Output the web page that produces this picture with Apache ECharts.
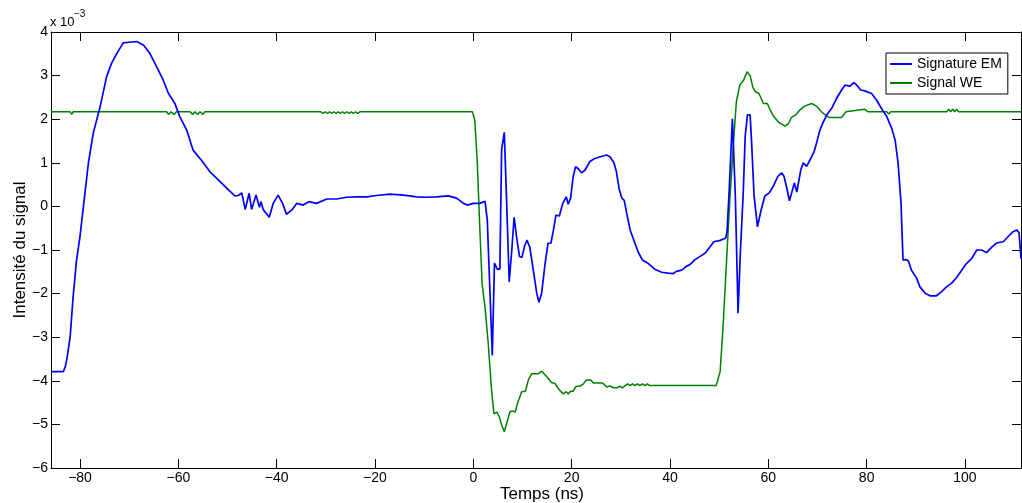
<!DOCTYPE html>
<html>
<head>
<meta charset="utf-8">
<script src="https://cdn.jsdelivr.net/npm/echarts@6/dist/echarts.min.js"></script>
<style>
html,body{margin:0;padding:0;background:#fff;}
#chart{width:1022px;height:503px;}
</style>
</head>
<body>
<div id="chart"></div>
<script>
var seriesNames = ['Signature EM', 'Signal WE'];
var xTicks = [-80, -60, -40, -20, 0, 20, 40, 60, 80, 100];

var emX = [-85.9,-83.4,-83.0,-82.7,-82.0,-81.4,-80.7,-80.0,-79.3,-78.3,-77.3,-75.9,-74.6,-73.6,-72.5,-71.2,-69.5,-68.5,-67.1,-65.8,-64.4,-63.1,-62.0,-60.7,-59.7,-58.3,-57.0,-55.3,-53.6,-51.5,-49.8,-48.5,-47.8,-47.1,-46.4,-46.0,-45.6,-45.1,-44.2,-43.5,-43.2,-42.7,-41.5,-40.7,-39.7,-38.8,-38.0,-36.9,-35.9,-34.6,-33.4,-31.9,-29.8,-27.8,-25.8,-23.7,-21.7,-19.7,-17.0,-14.2,-11.5,-9.5,-7.5,-5.1,-3.4,-2.0,-1.2,0.0,1.35,2.37,2.84,3.3,3.86,4.3,4.87,5.4,5.76,6.3,6.78,7.3,7.8,8.3,8.8,9.4,9.9,10.4,10.9,11.5,12.2,12.9,13.35,13.9,14.6,15.2,15.8,16.3,16.8,17.5,18.2,18.9,19.3,19.8,20.3,20.8,21.3,22.0,22.7,23.7,24.7,25.8,27.1,27.8,28.6,29.1,29.7,30.2,30.7,31.2,31.9,32.9,33.5,34.4,35.6,36.9,38.3,39.6,40.7,41.3,42.4,43.4,44.1,45.1,46.2,47.2,48.2,48.9,50.2,51.3,51.6,52.05,52.7,53.3,53.85,54.3,54.9,55.3,55.75,56.3,56.6,57.1,57.8,58.5,59.3,60.2,61.1,61.9,62.7,63.2,63.7,64.3,64.7,65.3,65.8,66.2,66.6,67.1,67.8,68.5,69.3,69.8,70.5,71.2,71.9,72.9,73.9,74.9,75.6,76.6,77.4,78.0,78.8,79.6,81.0,82.0,83.0,84.1,85.1,85.8,86.4,87.0,87.4,88.0,88.5,89.1,90.2,90.8,91.9,92.9,94.2,95.2,96.3,97.3,98.3,99.3,100.3,101.4,102.4,103.4,104.4,105.4,106.4,107.8,108.8,109.8,110.5,111.0,111.4];
var emY = [-3.79,-3.79,-3.68,-3.52,-2.99,-2.07,-1.23,-0.69,0.0,0.99,1.68,2.29,2.97,3.28,3.51,3.75,3.77,3.78,3.70,3.51,3.20,2.90,2.59,2.36,2.06,1.75,1.29,1.06,0.80,0.57,0.38,0.24,0.25,0.31,-0.07,-0.07,0.30,-0.07,0.26,-0.02,0.11,-0.08,-0.25,0.07,0.26,0.07,-0.18,-0.08,0.07,0.03,0.11,0.07,0.17,0.17,0.21,0.22,0.22,0.25,0.28,0.26,0.22,0.21,0.22,0.24,0.19,0.07,0.03,0.07,0.07,0.12,-0.31,-1.7,-3.42,-1.30,-1.44,-1.44,1.31,1.70,0.1,-1.73,-1.04,-0.25,-0.70,-1.15,-1.17,-0.92,-0.77,-0.94,-1.46,-1.99,-2.2,-1.99,-1.31,-0.85,-0.84,-0.54,-0.20,-0.22,0.07,0.22,0.05,0.19,0.68,0.91,0.87,0.77,0.83,1.03,1.10,1.14,1.18,1.14,1.0,0.80,0.38,0.19,0.14,-0.16,-0.54,-0.85,-1.04,-1.23,-1.31,-1.44,-1.51,-1.53,-1.54,-1.49,-1.46,-1.37,-1.33,-1.22,-1.14,-1.07,-0.92,-0.81,-0.78,-0.73,-0.60,0.38,2.01,0.22,-2.45,-1.1,0.3,1.6,2.10,2.10,1.48,0.26,-0.47,-0.10,0.24,0.31,0.48,0.68,0.77,0.69,0.45,0.13,0.29,0.54,0.33,0.33,0.83,1.0,0.92,1.07,1.25,1.45,1.75,1.94,2.10,2.25,2.48,2.67,2.78,2.76,2.84,2.78,2.67,2.65,2.59,2.44,2.25,2.06,1.79,1.52,0.99,0.07,-1.23,-1.22,-1.25,-1.46,-1.65,-1.84,-1.99,-2.05,-2.05,-1.96,-1.84,-1.76,-1.63,-1.47,-1.31,-1.19,-1.0,-1.0,-1.06,-0.94,-0.84,-0.81,-0.69,-0.58,-0.54,-0.6,-1.2];

var weX = [-85.9,-82.0,-81.7,-81.4,-62.4,-62.0,-61.5,-60.9,-60.4,-57.6,-57.1,-56.6,-56.1,-55.6,-55.0,-54.6,-31.0,-30.56,-30.12,-29.68,-29.24,-28.8,-28.36,-27.92,-27.48,-27.04,-26.6,-26.16,-25.72,-25.28,-24.84,-24.4,-23.96,-23.52,-23.08,-0.2,0.3,0.8,1.35,1.8,2.37,3.0,3.7,4.2,4.8,5.3,5.77,6.3,6.78,7.45,8.0,8.5,9.1,9.83,10.6,11.2,11.86,13.2,13.9,14.9,15.9,16.6,17.5,18.3,18.9,19.3,19.8,20.3,20.9,21.7,22.4,23.0,23.9,24.4,26.3,27.1,27.8,28.5,29.2,29.8,30.3,30.9,31.4,31.9,32.4,32.9,33.4,33.9,34.4,34.9,35.4,35.9,40.6,41.0,41.4,41.8,42.2,49.4,50.2,50.8,51.5,52.2,52.9,53.5,54.2,54.9,55.7,56.3,56.9,57.4,58.1,59.0,59.8,60.4,61.1,62.2,63.4,64.1,64.7,65.6,66.4,67.4,68.8,69.8,70.8,71.9,72.5,74.9,75.8,76.9,77.3,79.6,80.3,84.1,84.5,84.9,96.3,96.7,97.1,97.5,97.9,98.3,98.7,111.4];
var weY = [2.17,2.17,2.11,2.17,2.17,2.11,2.17,2.11,2.17,2.17,2.11,2.17,2.11,2.17,2.11,2.17,2.17,2.13,2.17,2.13,2.17,2.13,2.17,2.13,2.17,2.13,2.17,2.13,2.17,2.13,2.17,2.13,2.17,2.13,2.17,2.17,1.98,1.02,-0.58,-1.80,-2.30,-3.10,-4.20,-4.76,-4.72,-4.83,-5.02,-5.17,-4.98,-4.71,-4.69,-4.72,-4.48,-4.25,-4.24,-3.98,-3.84,-3.84,-3.78,-3.90,-4.04,-4.06,-4.21,-4.30,-4.25,-4.30,-4.24,-4.24,-4.13,-4.12,-4.07,-3.98,-3.98,-4.05,-4.05,-4.14,-4.12,-4.16,-4.16,-4.12,-4.16,-4.11,-4.07,-4.11,-4.07,-4.11,-4.07,-4.11,-4.07,-4.11,-4.07,-4.11,-4.11,-4.07,-4.11,-4.07,-4.11,-4.11,-3.79,-2.76,-1.27,0.2,1.42,2.40,2.78,2.88,3.09,3.0,2.72,2.63,2.59,2.36,2.36,2.21,2.06,1.92,1.84,1.90,2.04,2.10,2.21,2.30,2.36,2.30,2.17,2.07,2.04,2.04,2.17,2.19,2.23,2.23,2.17,2.17,2.12,2.17,2.17,2.23,2.17,2.23,2.17,2.23,2.17,2.17];

function zip(xs, ys) { return xs.map(function (x, i) { return [x, ys[i]]; }); }
function minusFmt(v) { return v < 0 ? '\u2212' + Math.abs(v) : String(v); }

var FONT = '"Liberation Sans", Arial, Helvetica, sans-serif';
var black = '#000';
var xMin = -85.9, xMax = 111.4;

var chart = echarts.init(document.getElementById('chart'), null, { renderer: 'canvas' });
chart.setOption({
  animation: false,
  backgroundColor: '#fff',
  grid: { left: 51, right: 1, top: 32, bottom: 35, containLabel: false, outerBoundsMode: 'none' },
  legend: {
    orient: 'vertical',
    left: 886, top: 53,
    padding: [4, 6, 4, 4],
    icon: 'rect',
    itemWidth: 22, itemHeight: 2, itemGap: 5,
    backgroundColor: '#fff',
    borderColor: black, borderWidth: 1,
    textStyle: { fontFamily: FONT, fontSize: 14, color: black, lineHeight: 14 },
    data: seriesNames
  },
  xAxis: [{
    type: 'value', position: 'bottom', min: xMin, max: xMax,
    name: 'Temps (ns)', nameLocation: 'middle', nameGap: 18, nameMoveOverlap: false,
    nameTextStyle: { fontFamily: FONT, fontSize: 17, color: black, padding: [0, 0, 0, 12] },
    axisLine: { show: true, onZero: false, lineStyle: { color: black, width: 1 } },
    axisTick: { show: true, inside: true, length: 9, customValues: xTicks, lineStyle: { color: black } },
    axisLabel: { customValues: xTicks, formatter: minusFmt, fontFamily: FONT, fontSize: 14, color: black, margin: 3 },
    splitLine: { show: false }
  }, {
    type: 'value', position: 'top', min: xMin, max: xMax,
    axisLine: { show: true, onZero: false, lineStyle: { color: black, width: 1 } },
    axisTick: { show: true, inside: true, length: 9, customValues: xTicks, lineStyle: { color: black } },
    axisLabel: { show: false },
    splitLine: { show: false }
  }],
  yAxis: [{
    type: 'value', position: 'left', min: -6, max: 4, interval: 1,
    name: 'Intensité du signal', nameLocation: 'middle', nameGap: 22, nameMoveOverlap: false,
    nameTextStyle: { fontFamily: FONT, fontSize: 17, color: black },
    axisLine: { show: true, onZero: false, lineStyle: { color: black, width: 1 } },
    axisTick: { show: true, inside: true, length: 9, lineStyle: { color: black } },
    axisLabel: { formatter: minusFmt, fontFamily: FONT, fontSize: 14, color: black, margin: 3 },
    splitLine: { show: false }
  }, {
    type: 'value', position: 'right', min: -6, max: 4, interval: 1,
    axisLine: { show: true, onZero: false, lineStyle: { color: black, width: 1 } },
    axisTick: { show: true, inside: true, length: 9, lineStyle: { color: black } },
    axisLabel: { show: false },
    splitLine: { show: false }
  }],
  graphic: [
    { type: 'text', left: 50, top: 16, style: { text: 'x 10', fontFamily: FONT, fontSize: 13, fill: black } },
    { type: 'text', left: 74, top: 9, style: { text: '\u22123', fontFamily: FONT, fontSize: 10, fill: black } }
  ],
  series: [{
    name: seriesNames[0], type: 'line', xAxisIndex: 0, yAxisIndex: 0,
    data: zip(emX, emY), symbol: 'none', smooth: false, clip: true,
    lineStyle: { color: '#0000ff', width: 1.7 }, itemStyle: { color: '#0000ff' }, z: 3
  }, {
    name: seriesNames[1], type: 'line', xAxisIndex: 0, yAxisIndex: 0,
    data: zip(weX, weY), symbol: 'none', smooth: false, clip: true,
    lineStyle: { color: '#008000', width: 1.5 }, itemStyle: { color: '#008000' }, z: 2
  }]
});
</script>
</body>
</html>
